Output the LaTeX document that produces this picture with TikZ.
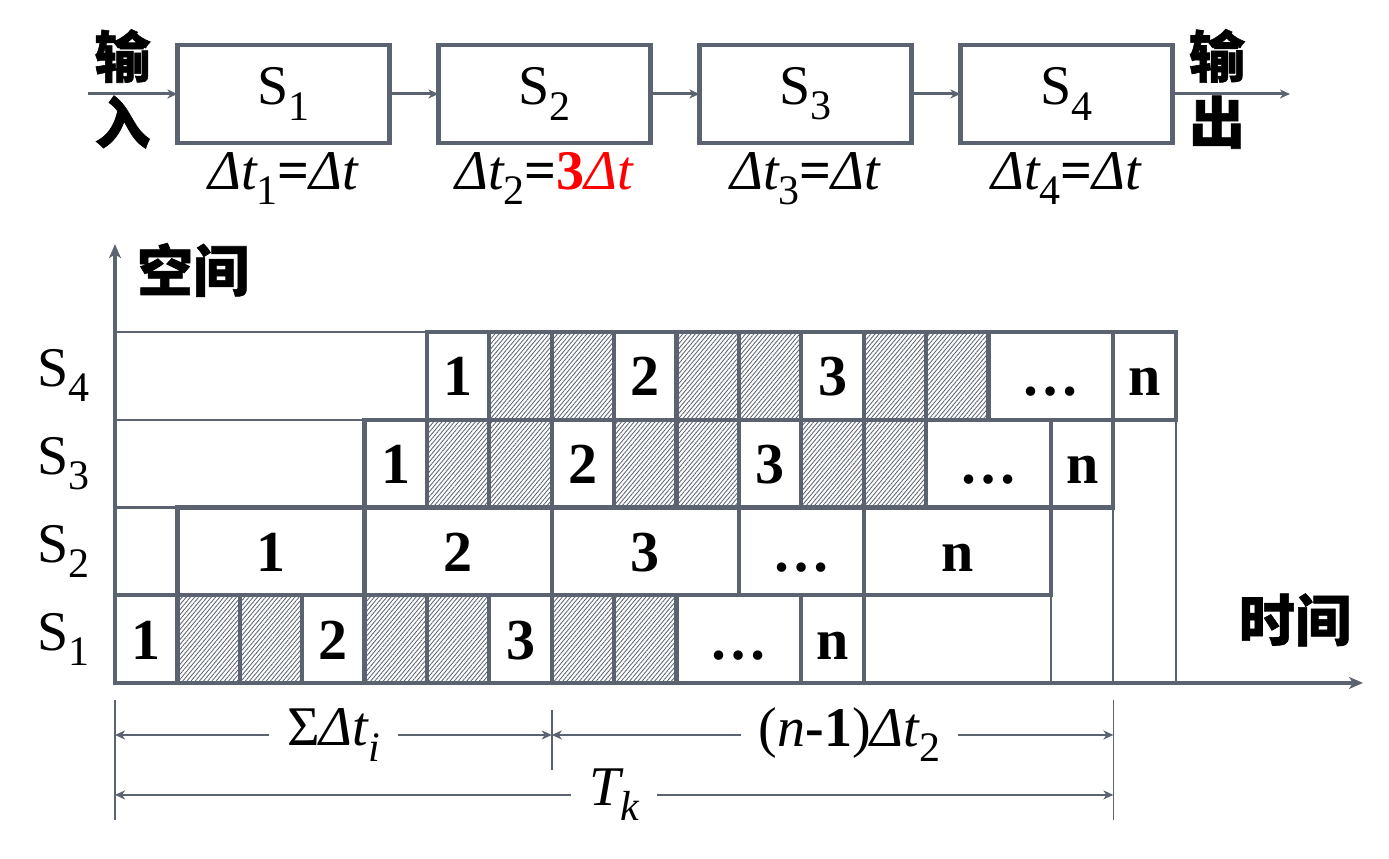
\documentclass[tikz,border=0pt]{standalone}
\usepackage{fontspec}
\setmainfont{Liberation Serif}
\newfontfamily\cjk[BoldFeatures={FakeBold=1}]{Noto Sans CJK SC}
\usepackage{xcolor}
\definecolor{Slate}{HTML}{5B6370}
\definecolor{Pure Red}{HTML}{FF0000}
\colorlet{cLine}{Slate}
\colorlet{cRed}{Pure Red}
\colorlet{cHatch}{Slate}
\usepackage{graphicx}
\usepackage{tikz}
\usetikzlibrary{positioning, arrows.meta, patterns.meta}
\newcommand{\lowr}[1]{\raisebox{-.27em}{\fontsize{21}{21}\selectfont #1}}
\tikzset{
	node distance = 0pt,
	>={Stealth[length=5pt, width=4.5pt, inset=1.5pt]},
	font = \fontsize{28}{30}\selectfont,
	stage/.style={
		draw=cLine,
		line width=2.2pt,
		outer sep=0pt,
		minimum width=106pt,
		minimum height=49pt
	},
	slot/.style={
		draw=cLine,
		line width=2.1pt,
		outer sep=0pt,
		inner sep=0pt,
		minimum width=#1*31.2pt,
		minimum height=43.875pt,
		text height=20pt,
		text depth=0pt,
		font=\fontsize{29}{30}\selectfont\bfseries
	},
	slot/.default=1,
	idle/.style={
		slot,
		pattern={Lines[angle=50, distance=1.6pt, line width=.42pt]},
		pattern color=cHatch
	},
	flow/.style={
		->,
		draw=cLine,
		line width=1.5pt
	},
	axis/.style={
		->,
		draw=cLine,
		line width=2pt,
		>={Stealth[length=7pt, width=6pt, inset=2pt]}
	},
	dim/.style={
		<->,
		draw=cLine,
		line width=1pt
	},
	rule/.style={
		draw=cLine,
		line width=1.1pt
	},
	gap/.style={
		fill=white,
		inner xsep=9pt,
		inner ysep=1pt
	},
	hanzi/.style={
		font=\fontsize{28}{33}\selectfont\cjk\bfseries
	}
}

\begin{document}
\begin{tikzpicture}[x=31.2pt, y=43.875pt]
\useasboundingbox (-1.843,-2.006) rectangle (20.417,7.783);
% ---
% Four-stage pipeline
% ---
\node[stage, anchor=west] at (1,6.712) (s1) {S\lowr{1}};
\node[stage, right=24.5pt of s1] (s2) {S\lowr{2}};
\node[stage, right=24.5pt of s2] (s3) {S\lowr{3}};
\node[stage, right=24.5pt of s3] (s4) {S\lowr{4}};

\node[below=1pt of s1] (t1) {{\itshape Δt}\lowr{1}{\bfseries =}{\itshape Δt}};
\node[below=1pt of s2] (t2) {{\itshape Δt}\lowr{2}{\bfseries =}\textcolor{cRed}{{\bfseries 3}\itshape Δt}};
\node[below=1pt of s3] (t3) {{\itshape Δt}\lowr{3}{\bfseries =}{\itshape Δt}};
\node[below=1pt of s4] (t4) {{\itshape Δt}\lowr{4}{\bfseries =}{\itshape Δt}};

\coordinate (in) at (-0.433,6.712);
\coordinate (out) at (18.83,6.712);
\node[hanzi, align=center] at (0.12,6.77) (inlbl) {输\\入};
\node[hanzi, align=center] at (17.66,6.77) (outlbl) {输\\出};

\draw[flow] (in) -- (s1);
\draw[flow] (s1) -- (s2);
\draw[flow] (s2) -- (s3);
\draw[flow] (s3) -- (s4);
\draw[flow] (s4) -- (out);

% ---
% Space-time chart
% ---
\node[slot, anchor=south west] at (0,0) (a0) {1};
\node[idle, right=of a0] (a1) {};
\node[idle, right=of a1] (a2) {};
\node[slot, right=of a2] (a3) {2};
\node[idle, right=of a3] (a4) {};
\node[idle, right=of a4] (a5) {};
\node[slot, right=of a5] (a6) {3};
\node[idle, right=of a6] (a7) {};
\node[idle, right=of a7] (a8) {};
\node[slot=2, right=of a8] (a9) {…};
\node[slot, right=of a9] (a11) {n};

\node[slot=3, anchor=south west] at (1,1) (b1) {1};
\node[slot=3, right=of b1] (b4) {2};
\node[slot=3, right=of b4] (b7) {3};
\node[slot=2, right=of b7] (b10) {…};
\node[slot=3, right=of b10] (b12) {n};

\node[slot, anchor=south west] at (4,2) (c4) {1};
\node[idle, right=of c4] (c5) {};
\node[idle, right=of c5] (c6) {};
\node[slot, right=of c6] (c7) {2};
\node[idle, right=of c7] (c8) {};
\node[idle, right=of c8] (c9) {};
\node[slot, right=of c9] (c10) {3};
\node[idle, right=of c10] (c11) {};
\node[idle, right=of c11] (c12) {};
\node[slot=2, right=of c12] (c13) {…};
\node[slot, right=of c13] (c15) {n};

\node[slot, anchor=south west] at (5,3) (d5) {1};
\node[idle, right=of d5] (d6) {};
\node[idle, right=of d6] (d7) {};
\node[slot, right=of d7] (d8) {2};
\node[idle, right=of d8] (d9) {};
\node[idle, right=of d9] (d10) {};
\node[slot, right=of d10] (d11) {3};
\node[idle, right=of d11] (d12) {};
\node[idle, right=of d12] (d13) {};
\node[slot=2, right=of d13] (d14) {…};
\node[slot, right=of d14] (d16) {n};

\draw[rule] (0,4) -- (d5.north west);
\draw[rule] (0,3) -- (c4.north west);
\draw[rule] (0,2) -- (b1.north west);
\draw[rule] (b12.south east) -- (b12.south east |- 0,0);
\draw[rule] (c15.south east) -- (c15.south east |- 0,0);
\draw[rule] (d16.south east) -- (d16.south east |- 0,0);

\node at (-0.83,0.5) (r1) {S\lowr{1}};
\node at (-0.83,1.5) (r2) {S\lowr{2}};
\node at (-0.83,2.5) (r3) {S\lowr{3}};
\node at (-0.83,3.5) (r4) {S\lowr{4}};

\coordinate (o) at (0,0);
\coordinate (ytip) at (0,5);
\coordinate (xtip) at (20,0);
\draw[axis] (o) -- (ytip);
\draw[axis] (o) -- (xtip);
\node[hanzi] at (1.25,4.707) (space) {空间};
\node[hanzi] at (18.91,0.718) (time) {时间};

% ---
% Time spans
% ---
\coordinate (k0a) at (0,-0.194);
\coordinate (k0b) at (0,-1.561);
\coordinate (k7a) at (7,-0.308);
\coordinate (k7b) at (7,-0.991);
\coordinate (k16a) at (16,-0.194);
\coordinate (k16b) at (16,-1.561);
\draw[rule, line width=.8pt] (k0a) -- (k0b);
\draw[rule, line width=.8pt] (k7a) -- (k7b);
\draw[rule, line width=.8pt] (k16a) -- (k16b);

\coordinate (m0) at (0,-0.593);
\coordinate (m7) at (7,-0.593);
\coordinate (m16) at (16,-0.593);
\coordinate (n0) at (0,-1.276);
\coordinate (n16) at (16,-1.276);
\draw[dim] (m0) -- node[gap] (fill) {Σ{\itshape Δt\lowr{i}}} (m7);
\draw[dim] (m7) -- node[gap, pos=.53] (flush) {({\itshape n}{\bfseries -1}){\itshape Δt}\lowr{2}} (m16);
\draw[dim] (n0) -- node[gap] (total) {{\itshape T\lowr{k}}} (n16);
\end{tikzpicture}
\end{document}
